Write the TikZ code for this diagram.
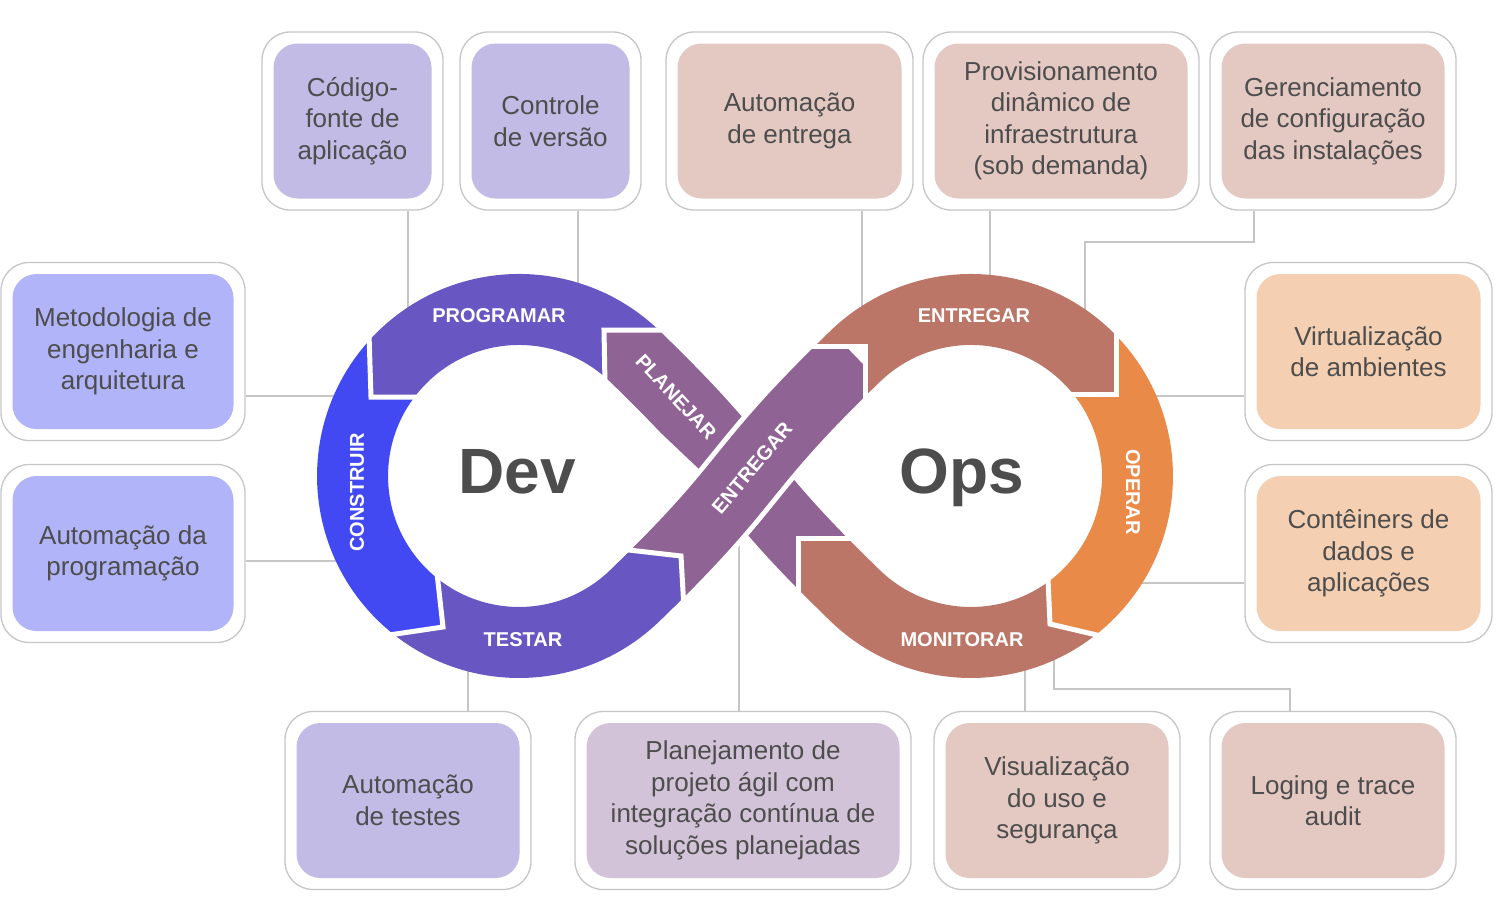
\documentclass[tikz,border=0pt]{standalone}
\usepackage{fontspec}
\setmainfont{Liberation Sans}
\usepackage{xcolor}
\usepackage{tikz}
\usetikzlibrary{calc}

\definecolor{progcol}{HTML}{6856C3}
\definecolor{buildcol}{HTML}{4349F2}
\definecolor{plancol}{HTML}{8F6494}
\definecolor{delivcol}{HTML}{BC7668}
\definecolor{opercol}{HTML}{E98A48}
\definecolor{lavbox}{HTML}{C1BBE6}
\definecolor{bluebox}{HTML}{B1B4F9}
\definecolor{mauvebox}{HTML}{D3C3D8}
\definecolor{rosebox}{HTML}{E4C8C2}
\definecolor{peachbox}{HTML}{F4CFB1}
\definecolor{boxline}{HTML}{C6C6C6}
\definecolor{txtgray}{HTML}{4D4D4D}

\tikzset{
	outerbox/.style={draw=boxline, line width=1.3pt, fill=white, rounded corners=28pt, minimum height=178pt, inner sep=0pt},
	innerbox/.style={fill=#1, rounded corners=24pt, minimum height=155pt, inner sep=0pt, align=center, text=txtgray, font=\fontsize{26}{31.5}\selectfont},
	band/.style={line width=71pt, draw=#1},
	bandtext/.style={text=white, font=\bfseries\fontsize{20}{24}\selectfont, inner sep=0pt},
	bigtext/.style={text=txtgray, font=\bfseries\fontsize{64}{70}\selectfont, inner sep=0pt, anchor=base},
	link/.style={draw=boxline, line width=1.3pt},
	cutline/.style={draw=white, line width=5pt, line join=miter},
}

\begin{document}
\begin{tikzpicture}[x=1pt,y=-1pt]
		\useasboundingbox (0,0) rectangle (1503,897);
		%----------------------------------------------------
		% Centres of the two loops, ends of the crossing
		%----------------------------------------------------
		\coordinate (devC) at (519,476);
		\coordinate (opsC) at (971,476);
		\coordinate (pA) at (634.7,356.2);
		\coordinate (pB) at (634.7,595.8);
		\coordinate (qA) at (855.3,356.2);
		\coordinate (qB) at (855.3,595.8);

		% where the connectors run into the ring
		\coordinate (tCodigo) at (408,330);
		\coordinate (tControle) at (578,300);
		\coordinate (tEntrega) at (862,320);
		\coordinate (tProvis) at (990,290);
		\coordinate (kGerencia) at (1254,242);
		\coordinate (tGerencia) at (1085,325);
		\coordinate (tMetodo) at (350,396);
		\coordinate (tAutoProg) at (350,561);
		\coordinate (tVirtual) at (1140,396);
		\coordinate (tConteiner) at (1125,583);
		\coordinate (tTestes) at (468,655);
		\coordinate (tPlanej) at (739,530);
		\coordinate (tVisual) at (1025,655);
		\coordinate (kLoging) at (1290,689);
		\coordinate (tLoging) at (1054,645);

		%----------------------------------------------------
		% Boxes, top row
		%----------------------------------------------------
		\node[outerbox, minimum width=181pt] (codigoOut) at (352.5,121) {};
		\node[innerbox=lavbox, minimum width=158pt] (codigo) at (codigoOut) {Código-\\fonte de\\aplicação};
		\node[outerbox, minimum width=181pt] (controleOut) at (550.5,121) {};
		\node[innerbox=lavbox, minimum width=158pt] (controle) at (controleOut) {Controle\\de versão};
		\node[outerbox, minimum width=247pt] (entregaOut) at (789.5,121) {};
		\node[innerbox=rosebox, minimum width=224pt] (entrega) at (entregaOut) {Automação\\de entrega};
		\node[outerbox, minimum width=276pt] (provisOut) at (1061,121) {};
		\node[innerbox=rosebox, minimum width=253pt] (provis) at (provisOut) {Provisionamento\\dinâmico de\\infraestrutura\\(sob demanda)};
		\node[outerbox, minimum width=246pt] (gerenciaOut) at (1333,121) {};
		\node[innerbox=rosebox, minimum width=223pt] (gerencia) at (gerenciaOut) {Gerenciamento\\de configuração\\das instalações};

		%----------------------------------------------------
		% Boxes, left and right columns
		%----------------------------------------------------
		\node[outerbox, minimum width=244pt] (metodoOut) at (123,351.5) {};
		\node[innerbox=bluebox, minimum width=221pt] (metodo) at (metodoOut) {Metodologia de\\engenharia e\\arquitetura};
		\node[outerbox, minimum width=244pt] (autoProgOut) at (123,553.5) {};
		\node[innerbox=bluebox, minimum width=221pt] (autoProg) at (autoProgOut) {Automação da\\programação};
		\node[outerbox, minimum width=247pt] (virtualOut) at (1368.5,351.5) {};
		\node[innerbox=peachbox, minimum width=224pt] (virtual) at (virtualOut) {Virtualização\\de ambientes};
		\node[outerbox, minimum width=247pt] (conteinerOut) at (1368.5,553.5) {};
		\node[innerbox=peachbox, minimum width=224pt] (conteiner) at (conteinerOut) {Contêiners de\\dados e\\aplicações};

		%----------------------------------------------------
		% Boxes, bottom row
		%----------------------------------------------------
		\node[outerbox, minimum width=246pt] (testesOut) at (408,800.5) {};
		\node[innerbox=lavbox, minimum width=223pt] (testes) at (testesOut) {Automação\\de testes};
		\node[outerbox, minimum width=336pt] (planejOut) at (743,800.5) {};
		\node[innerbox=mauvebox, minimum width=313pt] (planej) at (planejOut) {Planejamento de\\projeto ágil com\\integração contínua de\\soluções planejadas};
		\node[outerbox, minimum width=246pt] (visualOut) at (1057,800.5) {};
		\node[innerbox=rosebox, minimum width=223pt] (visual) at (visualOut) {Visualização\\do uso e\\segurança};
		\node[outerbox, minimum width=246pt] (logingOut) at (1333,800.5) {};
		\node[innerbox=rosebox, minimum width=223pt] (loging) at (logingOut) {Loging e trace\\audit};

		%----------------------------------------------------
		% Connectors (the ring hides their ends)
		%----------------------------------------------------
		\draw[link] (tCodigo |- codigoOut.south) -- (tCodigo);
		\draw[link] (tControle |- controleOut.south) -- (tControle);
		\draw[link] (tEntrega |- entregaOut.south) -- (tEntrega);
		\draw[link] (tProvis |- provisOut.south) -- (tProvis);
		\draw[link] (kGerencia |- gerenciaOut.south) -- (kGerencia) -| (tGerencia);
		\draw[link] (tMetodo -| metodoOut.east) -- (tMetodo);
		\draw[link] (tAutoProg -| autoProgOut.east) -- (tAutoProg);
		\draw[link] (tVirtual -| virtualOut.west) -- (tVirtual);
		\draw[link] (tConteiner -| conteinerOut.west) -- (tConteiner);
		\draw[link] (tTestes |- testesOut.north) -- (tTestes);
		\draw[link] (tPlanej |- planejOut.north) -- (tPlanej);
		\draw[link] (tVisual |- visualOut.north) -- (tVisual);
		\draw[link] (kLoging |- logingOut.north) -- (kLoging) -| (tLoging);

		%----------------------------------------------------
		% Dev loop: PROGRAMAR, CONSTRUIR, TESTAR
		%----------------------------------------------------
		\begin{scope}
			\clip (415,397) -- (371,397) -- (370,250) -- (720,250) -- (720,330) -- (604,330) -- (605,380) -- (devC) -- cycle;
			\draw[band=progcol] (pA) arc[start angle=-46, end angle=-314, radius=166.5];
		\end{scope}
		\begin{scope}
			\clip (devC) -- (415,397) -- (371,397) -- (370,300) -- (250,300) -- (250,660) -- (330,643) -- (393,634) -- (443,627) -- (438,577) -- cycle;
			\draw[band=buildcol] (pA) arc[start angle=-46, end angle=-314, radius=166.5];
		\end{scope}
		\begin{scope}
			\clip (devC) -- (438,577) -- (443,627) -- (393,634) -- (330,643) -- (330,760) -- (684,760) -- (684,605) -- (681,556) -- (625,550) -- cycle;
			\draw[band=progcol] (pA) arc[start angle=-46, end angle=-314, radius=166.5] .. controls (756.9,477.6) and (733.1,474.4) .. (qA);
		\end{scope}

		%----------------------------------------------------
		% Ops loop: ENTREGAR, OPERAR, MONITORAR
		%----------------------------------------------------
		\begin{scope}
			\clip (opsC) -- (865,398) -- (865,346) -- (790,346) -- (790,200) -- (1116,200) -- (1116,394) -- (1071,394) -- cycle;
			\draw[band=delivcol] (pB) .. controls (756.9,477.6) and (733.1,474.4) .. (qA) arc[start angle=-134, end angle=134, radius=166.5];
		\end{scope}
		\begin{scope}
			\clip (opsC) -- (1071,394) -- (1116,394) -- (1116,200) -- (1260,200) -- (1260,660) -- (1160,650) -- (1097,635) -- (1050,624) -- (1048,583) -- cycle;
			\draw[band=opercol] (qA) arc[start angle=-134, end angle=134, radius=166.5];
		\end{scope}
		\begin{scope}
			\clip (opsC) -- (1048,583) -- (1050,624) -- (1097,635) -- (1160,650) -- (1160,760) -- (798,760) -- (798,538) -- (852,538) -- cycle;
			\draw[band=delivcol] (qA) arc[start angle=-134, end angle=134, radius=166.5] .. controls (733.1,477.6) and (756.9,474.4) .. (pA);
		\end{scope}

		%----------------------------------------------------
		% Crossing: PLANEJAR under, ENTREGAR over
		%----------------------------------------------------
		\begin{scope}
			\clip (852,538) -- (798,538) -- (798,650) -- (740,520) -- (700,470) -- (605,380) -- (604,330) -- (900,330) -- (900,538) -- cycle;
			\draw[band=plancol] (qB) .. controls (733.1,477.6) and (756.9,474.4) .. (pA) arc[start angle=-46, end angle=-314, radius=166.5];
		\end{scope}
		\begin{scope}
			\clip (625,550) -- (681,556) -- (684,605) -- (684,700) -- (950,700) -- (950,398) -- (865,398) -- (865,346) -- (808,346) -- (808,250) -- (600,250) -- (600,540) -- cycle;
			\draw[band=white, line width=81pt] (pB) .. controls (756.9,477.6) and (733.1,474.4) .. (qA);
			\draw[band=plancol] (pB) .. controls (756.9,477.6) and (733.1,474.4) .. (qA);
		\end{scope}

		% white cuts between the segments
		\draw[cutline] (672,330) -- (604,330) -- (605,384);
		\draw[cutline] (369,334) -- (371,397) -- (419,397);
		\draw[cutline] (437,573) -- (443,627) -- (389,635);
		\draw[cutline] (620,549) -- (681,556) -- (684,609);
		\draw[cutline] (800,346) -- (865,346) -- (865,402);
		\draw[cutline] (1116,333) -- (1116,394) -- (1067,394);
		\draw[cutline] (1048,579) -- (1050,624) -- (1101,636);
		\draw[cutline] (856,538) -- (798,538) -- (798,602);

		%----------------------------------------------------
		% Labels
		%----------------------------------------------------
		\node[bandtext] (lProg) at (499,316) {PROGRAMAR};
		\node[bandtext, rotate=90] (lBuild) at (357,492) {CONSTRUIR};
		\node[bandtext] (lTest) at (523,640) {TESTAR};
		\node[bandtext, rotate=-47] (lPlan) at (676,397) {PLANEJAR};
		\node[bandtext, rotate=50] (lDelivA) at (752,468) {ENTREGAR};
		\node[bandtext] (lDelivB) at (974,316) {ENTREGAR};
		\node[bandtext, rotate=-90] (lOper) at (1133,492) {OPERAR};
		\node[bandtext] (lMon) at (962,640) {MONITORAR};
		\node[bigtext] (lDev) at (517,493) {Dev};
		\node[bigtext] (lOps) at (962,493) {Ops};

	\end{tikzpicture}
\end{document}
